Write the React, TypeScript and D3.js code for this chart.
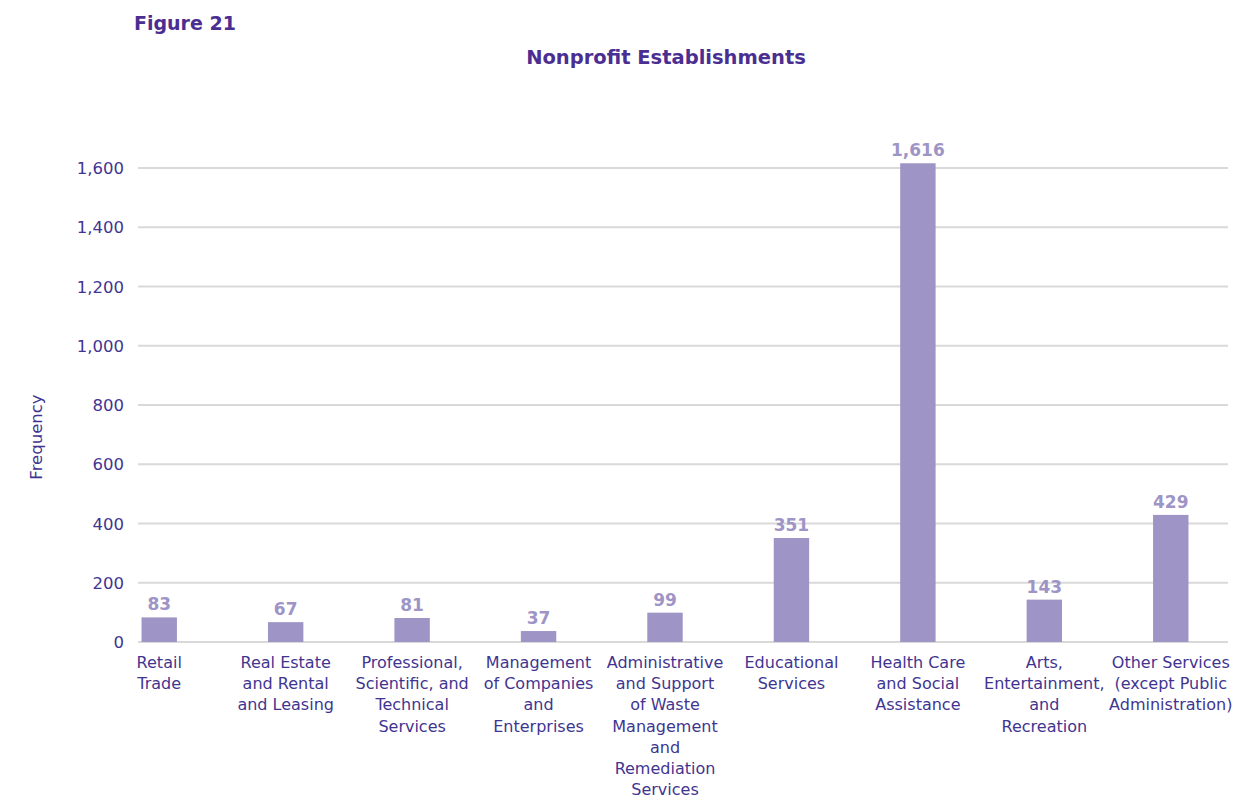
import React from "react";
import * as d3 from "d3";

const categories: string[][] = [
  ["Retail", "Trade"],
  ["Real Estate", "and Rental", "and Leasing"],
  ["Professional,", "Scientific, and", "Technical", "Services"],
  ["Management", "of Companies", "and", "Enterprises"],
  ["Administrative", "and Support", "of Waste", "Management", "and", "Remediation", "Services"],
  ["Educational", "Services"],
  ["Health Care", "and Social", "Assistance"],
  ["Arts,", "Entertainment,", "and", "Recreation"],
  ["Other Services", "(except Public", "Administration)"],
];
const values: number[] = [83, 67, 81, 37, 99, 351, 1616, 143, 429];
const yTicks: number[] = [0, 200, 400, 600, 800, 1000, 1200, 1400, 1600];

const W = 1258;
const H = 800;
const FONT = "'DejaVu Sans', sans-serif";
const TEXT = "#3F3590";
const BAR = "#9E94C6";

export default function App() {
  const ids = categories.map((_, i) => String(i));
  const x = d3.scaleBand<string>().domain(ids).range([96, 1234]).paddingInner(0.72).paddingOuter(0.36);
  const y = d3.scaleLinear().domain([0, 1600]).range([642, 168]);
  const fmt = d3.format(",");
  return (
    <svg width={W} height={H} style={{ position: "absolute", left: 0, top: 0, background: "#fff" }}>
      <text x={134} y={30} fill="#4B2E91" fontFamily={FONT} fontWeight="bold" fontSize={19}>Figure 21</text>
      <text x={666} y={64} fill="#4B2E91" fontFamily={FONT} fontWeight="bold" fontSize={19.5} textAnchor="middle">Nonprofit Establishments</text>
      {yTicks.map((t) => (
        <g key={t}>
          <line x1={138} x2={1228} y1={y(t)} y2={y(t)} stroke="#D9D9D9" strokeWidth={2} />
          <text x={124} y={y(t) + 6} fill={TEXT} fontFamily={FONT} fontSize={16.5} textAnchor="end">{fmt(t)}</text>
        </g>
      ))}
      <text transform="translate(42,437) rotate(-90)" fill={TEXT} fontFamily={FONT} fontSize={16.5} textAnchor="middle">Frequency</text>
      {values.map((v, i) => {
        const bx = x(String(i))!;
        const cx = bx + x.bandwidth() / 2;
        return (
          <g key={i}>
            <rect x={bx} y={y(v)} width={x.bandwidth()} height={y(0) - y(v)} fill={BAR} />
            <text x={cx} y={y(v) - 7} fill={BAR} fontFamily={FONT} fontWeight="bold" fontSize={17} textAnchor="middle">{fmt(v)}</text>
            <text fill={TEXT} fontFamily={FONT} fontSize={16} textAnchor="middle">
              {categories[i].map((line, j) => (
                <tspan key={j} x={cx} y={668 + j * 21.2}>{line}</tspan>
              ))}
            </text>
          </g>
        );
      })}
    </svg>
  );
}
